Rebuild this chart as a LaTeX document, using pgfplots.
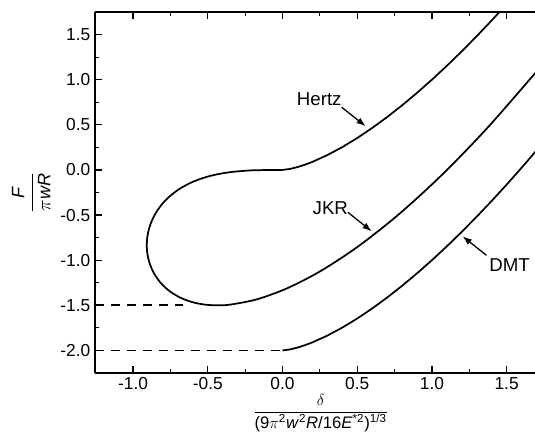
\documentclass[border=0pt]{standalone}
\usepackage{fontspec}
\setmainfont{Liberation Sans}
\usepackage{pgfplots}
\usepackage{pgfplotstable}
\pgfplotsset{compat=1.18}
\usetikzlibrary{arrows.meta}

% Hertz: F = delta^(3/2)
\pgfplotstableread{
d F
0.00 0.0
0.05 0.01118
0.10 0.03162
0.15 0.05809
0.20 0.08944
0.30 0.16432
0.40 0.25298
0.50 0.35355
0.60 0.46476
0.70 0.58566
0.80 0.71554
0.90 0.85381
1.00 1.00000
1.10 1.15369
1.20 1.31453
1.30 1.48223
1.40 1.65650
1.46 1.76412
}\hertz

% DMT: F = delta^(3/2) - 2
\pgfplotstableread{
d F
0.00 -2.0
0.05 -1.98882
0.10 -1.96838
0.15 -1.94191
0.20 -1.91056
0.30 -1.83568
0.40 -1.74702
0.50 -1.64645
0.60 -1.53524
0.70 -1.41434
0.80 -1.28446
0.90 -1.14619
1.00 -1.00000
1.10 -0.84631
1.20 -0.68547
1.30 -0.51777
1.40 -0.34350
1.50 -0.16291
1.60 0.02386
1.70 0.21653
}\dmt

% JKR
\pgfplotstableread{
d F
0.0 0.0
-0.1632 -0.00245
-0.23054 -0.00692
-0.3250 -0.01953
-0.3964 -0.03578
-0.45548 -0.05491
-0.5064 -0.07646
-0.57188 -0.11262
-0.6276 -0.15267
-0.6903 -0.21109
-0.7540 -0.29056
-0.80443 -0.37549
-0.84359 -0.46433
-0.8728 -0.55568
-0.89295 -0.64830
-0.9047 -0.74103
-0.90856 -0.83275
-0.90491 -0.92242
-0.89406 -1.00902
-0.87626 -1.09158
-0.85171 -1.16912
-0.82059 -1.24071
-0.78304 -1.30545
-0.73919 -1.36241
-0.68914 -1.41072
-0.63299 -1.44949
-0.57082 -1.47786
-0.50270 -1.49495
-0.42869 -1.49993
-0.34885 -1.49194
-0.17190 -1.43370
0.02782 -1.31359
0.25 -1.125
0.49441 -0.86142
0.76084 -0.51636
1.04911 -0.08340
1.35907 0.44386
1.69060 1.07180
1.75948 1.21002
}\jkr

\begin{document}
\begin{tikzpicture}
\begin{axis}[
  name=ax,
  width=330pt, height=270.75pt, scale only axis,
  xmin=-1.255, xmax=1.69, ymin=-2.25, ymax=1.75,
  enlargelimits=false,
  axis x line*=box, axis y line*=left,
  x axis line style={-}, y axis line style={-},
  axis line style={line width=1.1pt},
  tick align=inside,
  xtick={-1,-0.5,0,0.5,1,1.5},
  ytick={-2,-1.5,-1,-0.5,0,0.5,1,1.5},
  minor x tick num=1, minor y tick num=1,
  major tick length=5pt, minor tick length=2.7pt,
  every tick/.style={line width=0.9pt, black},
  /pgf/number format/fixed,
  /pgf/number format/fixed zerofill,
  /pgf/number format/precision=1,
  /pgf/number format/assume math mode=true,
  tick label style={font=\fontsize{13}{15}\selectfont},
  xlabel={$\displaystyle\frac{\delta}{\mbox{(9$\pi$\textsuperscript{2}\textit{w}\textsuperscript{2}\textit{R}/16\textit{E}\textsuperscript{*2})\textsuperscript{1/3}}}$},
  xlabel style={font=\fontsize{12.5}{15}\selectfont, at={(axis description cs:0.513,-0.11)}, anchor=center},
  ylabel={$\displaystyle\frac{\textit{F}}{\pi\textit{wR}}$},
  ylabel style={font=\fontsize{13.5}{16}\selectfont, at={(axis description cs:-0.145,0.5)}, anchor=center},
]
\addplot[black, line width=1.3pt, no marks] table {\hertz};
\addplot[black, line width=1.3pt, no marks] table {\dmt};
\addplot[black, line width=1.3pt, no marks, smooth] table {\jkr};
\addplot[black, line width=1.3pt, no marks, dash pattern=on 7pt off 5pt] coordinates {(-1.255,-1.5) (-0.666,-1.5)};
\addplot[black, line width=1.3pt, no marks, dash pattern=on 7pt off 5pt] coordinates {(-1.255,-2.0) (0,-2.0)};

\node[font=\fontsize{14}{16}\selectfont] at (axis cs:0.246,0.78) {Hertz};
\draw[line width=1pt, -{Latex[length=7pt,width=5pt]}] (axis cs:0.396,0.695) -- (axis cs:0.557,0.484);
\node[font=\fontsize{14}{16}\selectfont] at (axis cs:0.32,-0.42) {JKR};
\draw[line width=1pt, -{Latex[length=7pt,width=5pt]}] (axis cs:0.437,-0.469) -- (axis cs:0.597,-0.680);
\node[font=\fontsize{14}{16}\selectfont] at (axis cs:1.52,-1.056) {DMT};
\draw[line width=1pt, -{Latex[length=7pt,width=5pt]}] (axis cs:1.365,-0.946) -- (axis cs:1.205,-0.735);
\end{axis}
\pgfresetboundingbox
\path ([shift={(-71.25pt,-48pt)}]ax.south west) rectangle ([shift={(330pt,279.75pt)}]ax.south west);
\end{tikzpicture}
\end{document}
